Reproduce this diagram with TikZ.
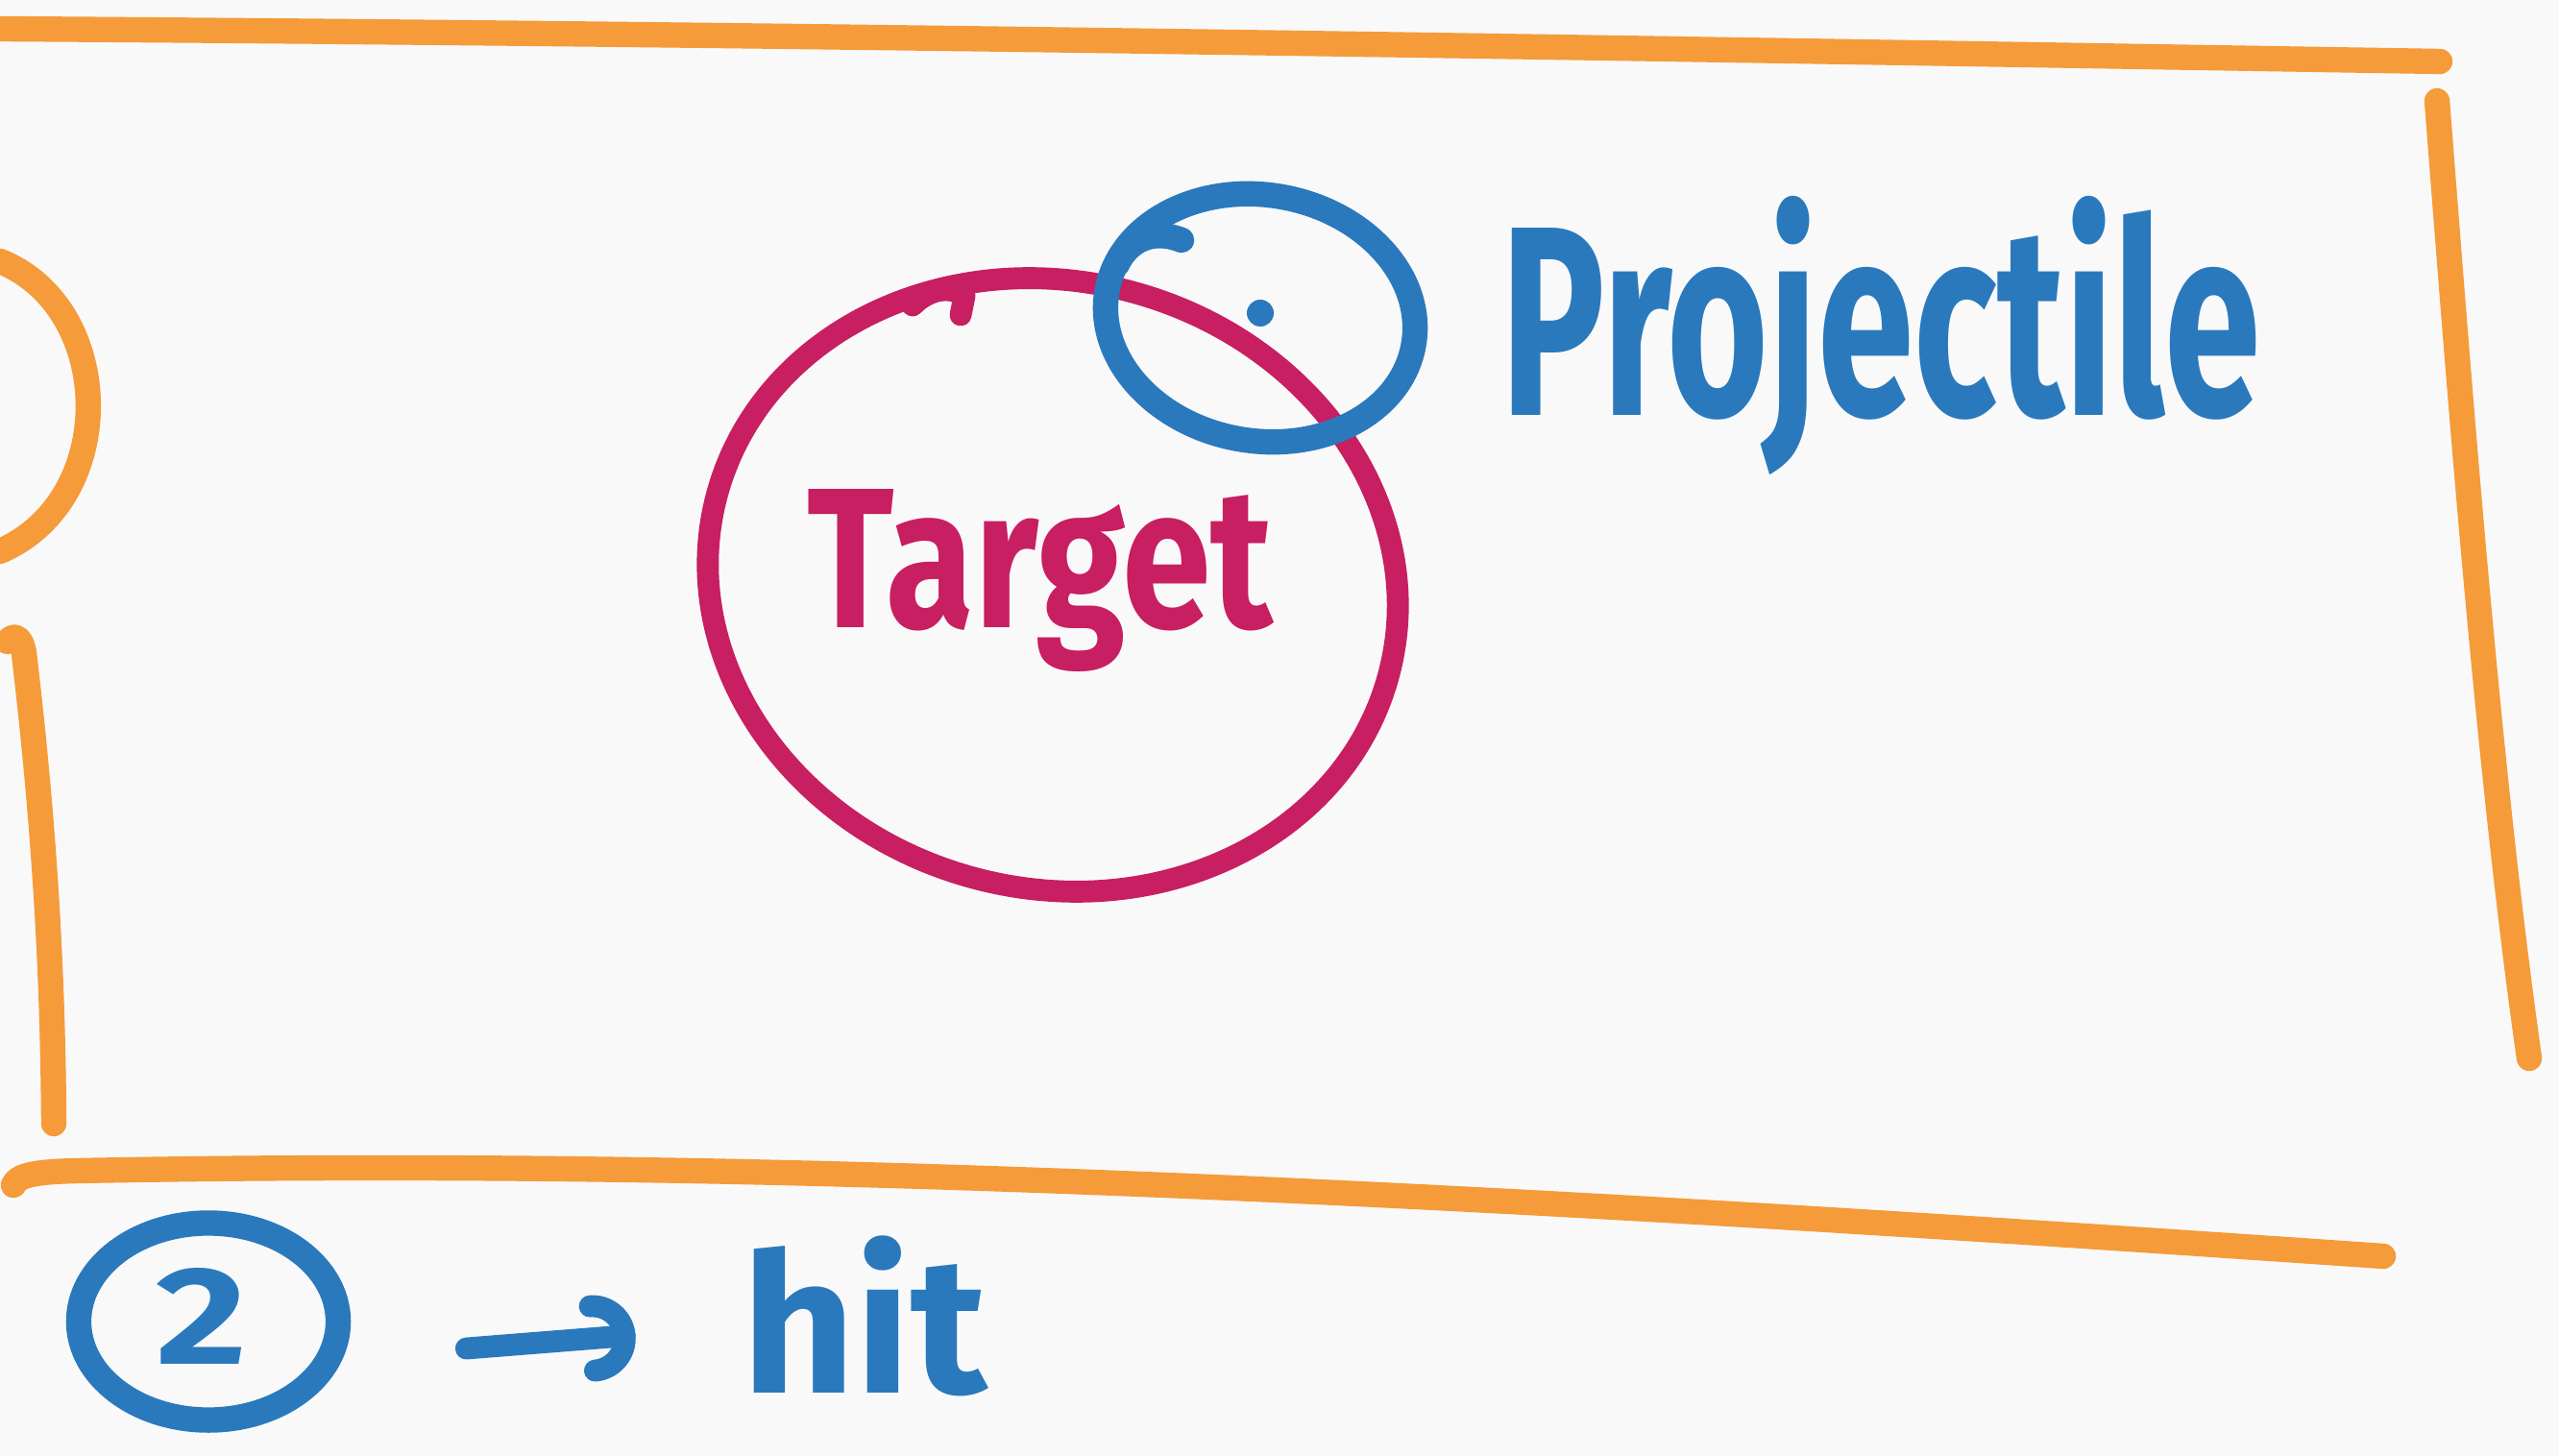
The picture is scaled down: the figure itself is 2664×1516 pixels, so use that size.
\documentclass[tikz,border=0pt]{standalone}
\usepackage{fontspec}
\setmainfont{Fira Sans}
\usetikzlibrary{arrows.meta,shapes.geometric}
\definecolor{sorange}{HTML}{F59B3A}
\definecolor{smag}{HTML}{C81E62}
\definecolor{sblue}{HTML}{2A79BD}
\definecolor{bgc}{HTML}{F9F9F9}
\begin{document}
\begin{tikzpicture}[x=0.01cm,y=-0.01cm,
  frame/.style={draw=sorange,line width=7.5pt,line cap=round,line join=round},
  tgt/.style={draw=smag,line width=6.5pt,line cap=round,line join=round},
  bl/.style={draw=sblue,line width=7.5pt,line cap=round,line join=round},
  lbl/.style={inner sep=0pt,font=\bfseries}]
\fill[bgc] (0,0) rectangle (2664,1516);
\useasboundingbox (0,0) rectangle (2664,1516);
% orange frame strokes
\draw[frame] (0,30) .. controls (900,36) and (1800,52) .. (2540,64);
\draw[frame] (2537,105) .. controls (2560,400) and (2590,800) .. (2633,1102);
\draw[frame] (14,1234) .. controls (18,1224) and (35,1220) .. (80,1219) .. controls (800,1205) and (1500,1240) .. (2481,1308);
\draw[frame] (8,668) .. controls (14,660) and (22,662) .. (25,680) .. controls (45,850) and (55,1000) .. (56,1170);
\draw[frame] (0,272) .. controls (120,320) and (125,520) .. (0,574);
% target
\draw[tgt] (1096,609) ellipse[x radius=362,y radius=316,rotate=-15];
\draw[tgt] (950,318) .. controls (968,300) and (990,298) .. (1004,308) -- (1000,328);
\node[lbl,text=smag] (target) at (1083,605) {\resizebox*{4.84cm}{1.9cm}{Target}};
% projectile
\draw[bl] (1312,331) ellipse[x radius=162,y radius=128,rotate=-10];
\draw[bl] (1230,250) .. controls (1200,238) and (1175,250) .. (1163,275);
\fill[sblue] (1312,326) circle (14);
\node[lbl,text=sblue] (proj) at (1958,349) {\resizebox*{7.9cm}{2.9cm}{Projectile}};
% bottom line
\node[ellipse,bl,inner sep=0pt,minimum width=2.7cm,minimum height=2.05cm] (two) at (217,1376) {};
\node[lbl,text=sblue] (twotxt) at (210,1370) {\resizebox*{0.95cm}{1.0cm}{2}};
\node[lbl,text=sblue] (hit) at (900,1370) {\resizebox*{2.55cm}{1.67cm}{hit}};
\draw[bl,line width=6.5pt,-{Arc Barb[length=0.45cm,width=0.9cm,round]}] ([xshift=1.2cm,yshift=-0.28cm]two.east) -- ([xshift=-1.1cm,yshift=-0.2cm]hit.west);
\end{tikzpicture}
\end{document}
